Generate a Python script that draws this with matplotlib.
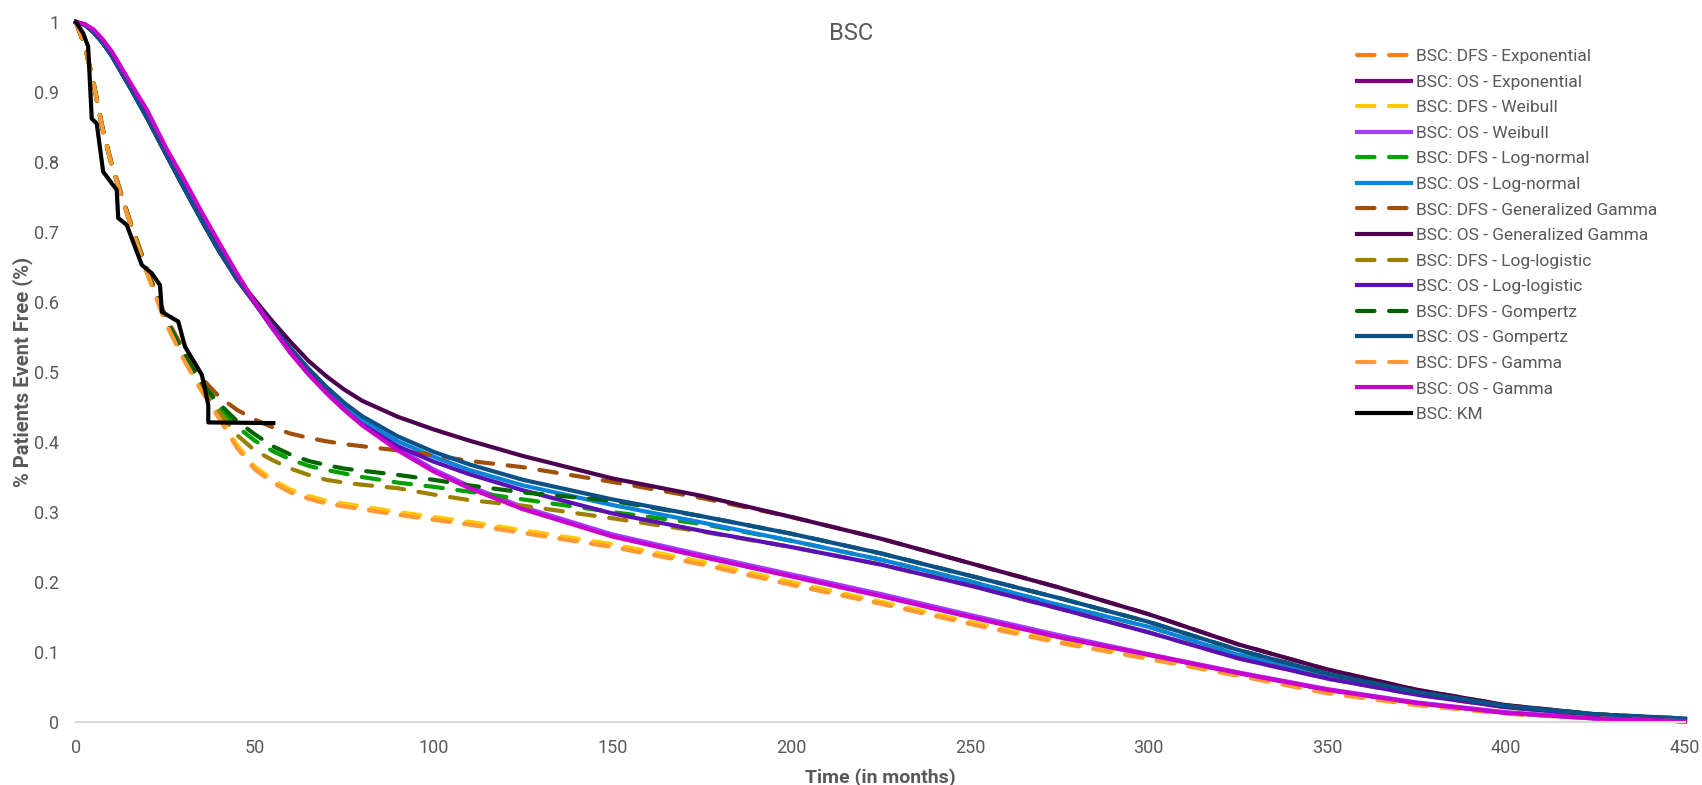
import matplotlib
matplotlib.use("Agg")
import matplotlib.pyplot as plt

# Temps commun (mois)
temps = [0, 2.5, 5, 7.5, 10, 15, 20, 25, 30, 35, 40, 45, 50, 55, 60, 65, 70, 75, 80, 90,
         100, 110, 125, 150, 175, 200, 225, 250, 275, 300, 325, 350, 375, 400, 425, 450]

# Courbes DFS (pointillés)
dfs_exponential = [1.0, 0.965, 0.91, 0.845, 0.795, 0.715, 0.640, 0.572, 0.520, 0.475, 0.435, 0.393,
                   0.362, 0.343, 0.329, 0.320, 0.313, 0.309, 0.305, 0.297, 0.290, 0.283, 0.271, 0.251,
                   0.226, 0.197, 0.170, 0.141, 0.114, 0.091, 0.067, 0.042, 0.025, 0.012, 0.005, 0.001]
dfs_weibull = [1.0, 0.965, 0.91, 0.845, 0.795, 0.715, 0.640, 0.573, 0.522, 0.477, 0.437, 0.396,
               0.365, 0.346, 0.332, 0.323, 0.316, 0.312, 0.308, 0.300, 0.293, 0.286, 0.274, 0.254,
               0.229, 0.200, 0.172, 0.143, 0.116, 0.093, 0.068, 0.043, 0.026, 0.013, 0.005, 0.001]
dfs_lognormal = [1.0, 0.965, 0.91, 0.845, 0.795, 0.716, 0.642, 0.575, 0.525, 0.482, 0.450, 0.422,
                 0.402, 0.387, 0.375, 0.366, 0.360, 0.355, 0.350, 0.342, 0.336, 0.329, 0.318, 0.300,
                 0.283, 0.259, 0.232, 0.201, 0.167, 0.136, 0.096, 0.066, 0.041, 0.022, 0.010, 0.004]
dfs_gengamma = [1.0, 0.966, 0.912, 0.848, 0.798, 0.718, 0.645, 0.580, 0.532, 0.492, 0.465, 0.446,
                0.432, 0.421, 0.412, 0.406, 0.401, 0.397, 0.394, 0.388, 0.381, 0.373, 0.364, 0.343,
                0.320, 0.293, 0.262, 0.227, 0.192, 0.154, 0.111, 0.075, 0.046, 0.024, 0.011, 0.004]
dfs_loglogistic = [1.0, 0.965, 0.91, 0.845, 0.795, 0.715, 0.641, 0.574, 0.523, 0.479, 0.443, 0.410,
                   0.388, 0.374, 0.362, 0.353, 0.346, 0.342, 0.339, 0.334, 0.325, 0.317, 0.309, 0.291,
                   0.272, 0.250, 0.225, 0.195, 0.162, 0.128, 0.091, 0.062, 0.039, 0.021, 0.010, 0.004]
dfs_gompertz = [1.0, 0.965, 0.91, 0.845, 0.795, 0.716, 0.642, 0.576, 0.527, 0.485, 0.455, 0.430,
                0.411, 0.394, 0.382, 0.373, 0.367, 0.362, 0.359, 0.353, 0.346, 0.338, 0.328, 0.316,
                0.294, 0.269, 0.241, 0.209, 0.177, 0.143, 0.103, 0.069, 0.043, 0.023, 0.011, 0.005]
dfs_gamma = [1.0, 0.965, 0.91, 0.845, 0.795, 0.715, 0.640, 0.571, 0.519, 0.474, 0.434, 0.392,
             0.361, 0.342, 0.328, 0.319, 0.312, 0.308, 0.304, 0.296, 0.289, 0.282, 0.270, 0.250,
             0.225, 0.196, 0.169, 0.140, 0.113, 0.090, 0.066, 0.041, 0.024, 0.012, 0.005, 0.001]

# Courbes OS (traits pleins)
os_exponential = [1.0, 0.996, 0.986, 0.971, 0.952, 0.908, 0.864, 0.815, 0.768, 0.721, 0.677, 0.636,
                  0.599, 0.562, 0.527, 0.497, 0.471, 0.447, 0.426, 0.390, 0.360, 0.336, 0.306, 0.267,
                  0.237, 0.209, 0.181, 0.151, 0.122, 0.096, 0.070, 0.046, 0.027, 0.013, 0.005, 0.001]
os_weibull = [1.0, 0.996, 0.986, 0.971, 0.952, 0.908, 0.864, 0.815, 0.768, 0.721, 0.677, 0.636,
              0.599, 0.562, 0.528, 0.498, 0.472, 0.448, 0.427, 0.391, 0.361, 0.337, 0.307, 0.268,
              0.239, 0.211, 0.183, 0.153, 0.124, 0.097, 0.071, 0.047, 0.028, 0.014, 0.005, 0.001]
os_lognormal = [1.0, 0.996, 0.985, 0.970, 0.952, 0.908, 0.862, 0.813, 0.765, 0.718, 0.673, 0.633,
                0.599, 0.565, 0.532, 0.502, 0.475, 0.451, 0.431, 0.401, 0.379, 0.360, 0.338, 0.310,
                0.285, 0.259, 0.232, 0.201, 0.167, 0.136, 0.096, 0.066, 0.041, 0.022, 0.010, 0.004]
os_gengamma = [1.0, 0.996, 0.985, 0.970, 0.952, 0.908, 0.862, 0.813, 0.765, 0.718, 0.673, 0.635,
               0.603, 0.572, 0.543, 0.516, 0.494, 0.475, 0.459, 0.436, 0.418, 0.402, 0.380, 0.348,
               0.323, 0.293, 0.262, 0.227, 0.192, 0.154, 0.111, 0.075, 0.046, 0.024, 0.011, 0.004]
os_loglogistic = [1.0, 0.996, 0.985, 0.970, 0.952, 0.908, 0.862, 0.813, 0.765, 0.718, 0.673, 0.632,
                  0.598, 0.563, 0.530, 0.499, 0.471, 0.446, 0.425, 0.394, 0.372, 0.354, 0.331, 0.298,
                  0.273, 0.250, 0.225, 0.195, 0.162, 0.128, 0.091, 0.062, 0.039, 0.021, 0.010, 0.004]
os_gompertz = [1.0, 0.996, 0.985, 0.970, 0.952, 0.908, 0.862, 0.813, 0.765, 0.718, 0.673, 0.634,
               0.600, 0.566, 0.534, 0.505, 0.479, 0.456, 0.437, 0.408, 0.386, 0.368, 0.346, 0.318,
               0.294, 0.269, 0.241, 0.209, 0.177, 0.143, 0.103, 0.069, 0.043, 0.023, 0.011, 0.005]
os_gamma = [1.0, 0.997, 0.989, 0.975, 0.958, 0.915, 0.873, 0.822, 0.777, 0.730, 0.685, 0.641,
            0.600, 0.563, 0.528, 0.497, 0.470, 0.446, 0.424, 0.388, 0.358, 0.334, 0.304, 0.265,
            0.236, 0.208, 0.180, 0.150, 0.121, 0.096, 0.070, 0.046, 0.027, 0.013, 0.005, 0.001]

# Kaplan-Meier
km_temps = [0, 2.0, 3.4, 4.4, 5.8, 7.6, 11.4, 11.8, 14.2, 18.4, 21.2, 23.5, 24.0, 28.6, 30.5,
            35.2, 37.0, 37.0, 55.2]
km_survie = [1.0, 0.984, 0.965, 0.862, 0.855, 0.786, 0.760, 0.720, 0.710, 0.653, 0.641, 0.624,
             0.586, 0.572, 0.536, 0.496, 0.453, 0.428, 0.427]

series = [
    ("BSC: DFS - Exponential", dfs_exponential, "#FF7F0E", True),
    ("BSC: OS - Exponential", os_exponential, "#800080", False),
    ("BSC: DFS - Weibull", dfs_weibull, "#FFC800", True),
    ("BSC: OS - Weibull", os_weibull, "#A040FF", False),
    ("BSC: DFS - Log-normal", dfs_lognormal, "#00A000", True),
    ("BSC: OS - Log-normal", os_lognormal, "#0A84D8", False),
    ("BSC: DFS - Generalized Gamma", dfs_gengamma, "#A0500A", True),
    ("BSC: OS - Generalized Gamma", os_gengamma, "#4B0050", False),
    ("BSC: DFS - Log-logistic", dfs_loglogistic, "#9C8000", True),
    ("BSC: OS - Log-logistic", os_loglogistic, "#5A10B4", False),
    ("BSC: DFS - Gompertz", dfs_gompertz, "#006400", True),
    ("BSC: OS - Gompertz", os_gompertz, "#0B5086", False),
    ("BSC: DFS - Gamma", dfs_gamma, "#FF9933", True),
    ("BSC: OS - Gamma", os_gamma, "#CC00CC", False),
]

gris = "#595959"
police_etroite = ["Liberation Sans Narrow", "Roboto", "DejaVu Sans"]

fig = plt.figure(figsize=(17.02, 7.85), dpi=100)
ax = fig.add_axes([76 / 1702, 63 / 785, 1609 / 1702, 700 / 785])

for nom, valeurs, couleur, pointille in series:
    if pointille:
        ax.plot(temps, valeurs, color=couleur, lw=3, dashes=(4.2, 3.5),
                dash_capstyle="round", label=nom, clip_on=False)
    else:
        ax.plot(temps, valeurs, color=couleur, lw=3, label=nom, clip_on=False)
ax.plot(km_temps, km_survie, color="black", lw=3, label="BSC: KM", clip_on=False)

ax.set_xlim(0, 450)
ax.set_ylim(0, 1)
ax.set_xticks(range(0, 451, 50))
ax.set_yticks([i / 10 for i in range(11)])
ax.set_yticklabels(["0", "0.1", "0.2", "0.3", "0.4", "0.5", "0.6", "0.7", "0.8", "0.9", "1"])
ax.tick_params(length=0, labelsize=13, labelcolor=gris, pad=12)
for lab in ax.get_xticklabels() + ax.get_yticklabels():
    lab.set_family(police_etroite)

for cote in ["top", "right", "left"]:
    ax.spines[cote].set_visible(False)
ax.spines["bottom"].set_color("#D9D9D9")
ax.spines["bottom"].set_linewidth(1.5)

ax.set_xlabel("Time (in months)", fontsize=14, fontweight="bold", color=gris,
              family=police_etroite, labelpad=8)
ax.set_ylabel("% Patients Event Free (%)", fontsize=14.5, fontweight="bold", color=gris,
              family=police_etroite, labelpad=1)

fig.text(0.5, 1 - 33 / 785, "BSC", ha="center", va="center", fontsize=17, color=gris,
         family=["Roboto", "DejaVu Sans"])

leg = ax.legend(loc="upper left", bbox_to_anchor=(1357 / 1702, 1 - 49 / 785),
                bbox_transform=fig.transFigure, frameon=False,
                handlelength=3.1, handletextpad=0.3, labelspacing=0.6,
                borderpad=0, borderaxespad=0, prop={"family": ["Roboto", "DejaVu Sans"], "size": 12.5})
for t in leg.get_texts():
    t.set_color(gris)

fig.savefig("out.png", dpi=100)
